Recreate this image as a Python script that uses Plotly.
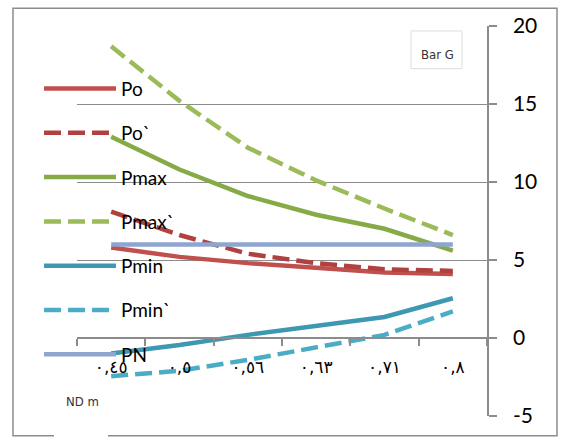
import plotly.graph_objects as go

categories = ["٠,٤٥", "٠,٥", "٠,٥٦", "٠,٦٣", "٠,٧١", "٠,٨"]
po = [5.8, 5.2, 4.8, 4.5, 4.2, 4.1]
po_p = [8.1, 6.6, 5.4, 4.8, 4.4, 4.3]
pmax = [12.9, 10.8, 9.1, 7.9, 7.0, 5.6]
pmax_p = [18.7, 15.2, 12.2, 10.1, 8.3, 6.6]
pmin = [-1.0, -0.45, 0.2, 0.75, 1.35, 2.55]
pmin_p = [-2.45, -2.1, -1.4, -0.6, 0.2, 1.7]
pn = [6, 6, 6, 6, 6, 6]
y_ticks = [-5, 0, 5, 10, 15, 20]
y_tick_text = ["-5", "0", "5", "10", "15", "20"]

series = [
    ("Po", po, "#C0504D", "solid"),
    ("Po`", po_p, "#B0413E", "17px,7px"),
    ("Pmax", pmax, "#86AA45", "solid"),
    ("Pmax`", pmax_p, "#9BBB59", "17px,7px"),
    ("Pmin", pmin, "#3E98B2", "solid"),
    ("Pmin`", pmin_p, "#4BACC6", "17px,7px"),
    ("PN", pn, "#8EA5CF", "solid"),
]

fig = go.Figure()
for i, (name, vals, color, dash) in enumerate(series):
    fig.add_trace(go.Scatter(
        x=categories, y=vals, name=name, mode="lines",
        line=dict(color=color, width=4.5, dash=dash),
        legendgroup=f"g{i}",
    ))

L, R, T, B = 77, 78, 24, 22
W, H = 565, 439
pw, ph = W - L - R, H - T - B

def px(x):
    return (x - L) / pw

def py(y):
    return (H - B - y) / ph

narrow = "'Liberation Sans Narrow', 'DejaVu Sans Condensed', sans-serif"

fig.update_layout(
    width=W, height=H,
    margin=dict(l=L, r=R, t=T, b=B),
    paper_bgcolor="white", plot_bgcolor="white",
    font=dict(family="Lato, 'Noto Sans', 'DejaVu Sans', sans-serif", color="black"),
    showlegend=True,
    legend=dict(
        x=px(39), y=py(68), xanchor="left", yanchor="top",
        bgcolor="rgba(0,0,0,0)", font=dict(size=19),
        itemwidth=72, tracegroupgap=16.6,
    ),
    xaxis=dict(
        type="category", range=[-0.5, 5.5],
        anchor="free", position=0.2,
        showline=True, linecolor="#8c8c8c", linewidth=1.5,
        ticks="outside", ticklen=7, tickcolor="#8c8c8c", tickwidth=1.5,
        tickson="boundaries", showgrid=False,
        tickfont=dict(size=17, family="'DejaVu Sans', sans-serif"),
        ticklabelstandoff=14,
    ),
    yaxis=dict(
        side="right", range=[-5, 20], tickvals=y_ticks, ticktext=y_tick_text,
        showline=True, linecolor="#8c8c8c", linewidth=1.5,
        ticks="outside", ticklen=8, tickcolor="#8c8c8c", tickwidth=1.5,
        showgrid=True, gridcolor="#8c8c8c", gridwidth=1.3,
        zeroline=False,
        tickfont=dict(size=21),
        ticklabelstandoff=12,
    ),
    shapes=[
        dict(type="rect", xref="paper", yref="paper",
             x0=px(13), x1=px(557), y0=py(437), y1=py(6),
             line=dict(color="#8c8c8c", width=1.5), layer="below"),
        dict(type="rect", xref="paper", yref="paper",
             x0=px(411), x1=px(462), y0=py(67), y1=py(29),
             line=dict(color="#dddddd", width=1), fillcolor="white", layer="above"),
        dict(type="rect", xref="paper", yref="paper",
             x0=px(54), x1=px(108), y0=py(440), y1=py(383),
             line=dict(width=0), fillcolor="white", layer="above"),
    ],
    annotations=[
        dict(text="Bar G", xref="paper", yref="paper", x=px(437), y=py(53),
             xanchor="center", yanchor="middle",
             showarrow=False, font=dict(size=13, color="#333333", family=narrow)),
        dict(text="ND m", xref="paper", yref="paper", x=px(82), y=py(402),
             xanchor="center", yanchor="middle",
             showarrow=False, font=dict(size=13, color="#333333", family=narrow)),
    ],
)

fig.write_html("out.html")
